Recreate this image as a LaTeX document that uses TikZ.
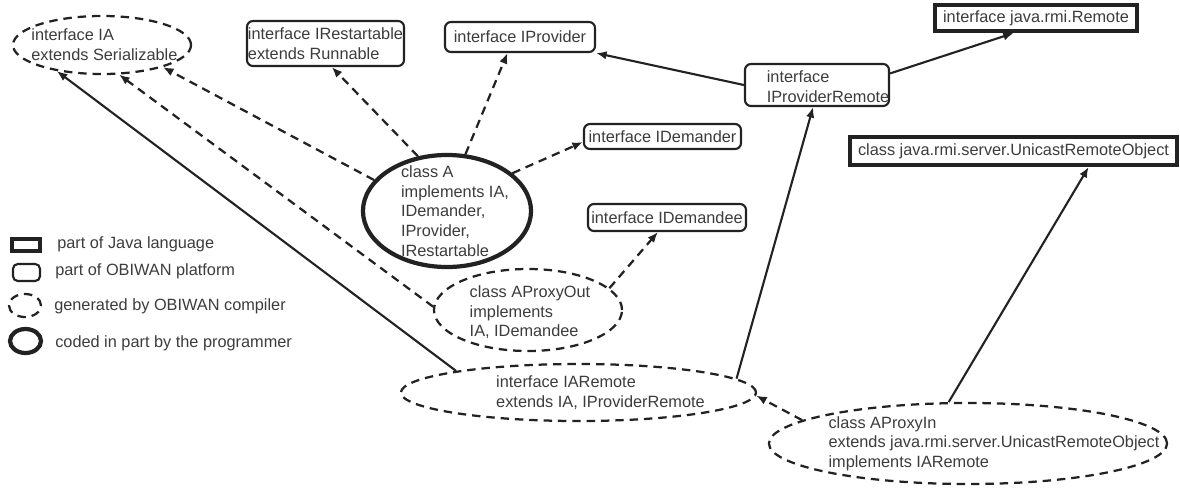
\documentclass[tikz,border=0pt]{standalone}
\usepackage{fontspec}
\setmainfont{Liberation Sans}
\usepackage{tikz}
\usetikzlibrary{arrows.meta,shapes.geometric}
\definecolor{ink}{HTML}{222222}
\definecolor{txt}{HTML}{3C3C3C}
\tikzset{
	every node/.style={font=\fontsize{11.6}{14}\selectfont, text=txt, align=left},
	javabox/.style={draw=ink, line width=2.8pt, rectangle, inner sep=0pt},
	obibox/.style={draw=ink, line width=1.5pt, rectangle, rounded corners=0.15cm, inner sep=0pt},
	genoval/.style={draw=ink, line width=1.6pt, ellipse, dash pattern=on 6pt off 4.2pt, inner sep=0pt},
	codeoval/.style={draw=ink, line width=3pt, ellipse, inner sep=0pt},
	dep/.style={draw=ink, line width=1.6pt, dash pattern=on 6pt off 4.2pt, -{Latex[length=7.5pt,width=6pt]}},
	ext/.style={draw=ink, line width=1.5pt, -{Latex[length=7.5pt,width=6pt]}},
	legtext/.style={anchor=west, inner sep=0pt}
}

\begin{document}
\begin{tikzpicture}[x=0.025cm, y=-0.025cm]
			%%%%% START %%%%%
			\useasboundingbox (0, 0) rectangle (1180, 488);
			
			% part of Java language
			\node[javabox, minimum width=5.05cm, minimum height=0.65cm] (Remote) at (1036, 18) {interface java.rmi.Remote};
			\node[javabox, minimum width=8.175cm, minimum height=0.7cm] (Unicast) at (1013.5, 151) {class java.rmi.server.UnicastRemoteObject};
			
			% part of OBIWAN platform
			\node[obibox, minimum width=3.925cm, minimum height=1.125cm] (IRestartable) at (325.5, 43.5) {interface IRestartable\\extends Runnable};
			\node[obibox, minimum width=3.75cm, minimum height=0.75cm] (IProvider) at (520, 37) {interface IProvider};
			\node[obibox, minimum width=3.925cm, minimum height=0.625cm] (IDemander) at (662.5, 136.5) {interface IDemander};
			\node[obibox, minimum width=3.95cm, minimum height=0.675cm] (IDemandee) at (667, 217.5) {interface IDemandee};
			\node[obibox, minimum width=3.6cm, minimum height=1.05cm,
				label={[xshift=0.275cm, yshift=-0.04cm]center:interface\\IProviderRemote}] (IProviderRemote) at (817, 85) {};
			
			% generated by OBIWAN compiler
			\node[genoval, minimum width=4.45cm, minimum height=1.45cm,
				label={[xshift=0.06cm]center:interface IA\\extends Serializable}] (IA) at (102, 45) {};
			\node[genoval, minimum width=4.7cm, minimum height=2.05cm,
				label={[xshift=0.05cm, yshift=-0.06cm]center:class AProxyOut\\implements\\IA, IDemandee}] (AProxyOut) at (528, 310) {};
			\node[genoval, minimum width=8.875cm, minimum height=1.425cm,
				label={[xshift=0.55cm]center:interface IARemote\\extends IA, IProviderRemote}] (IARemote) at (578.5, 392.5) {};
			\node[genoval, minimum width=9.95cm, minimum height=2.025cm,
				label={[xshift=0.65cm]center:class AProxyIn\\extends java.rmi.server.UnicastRemoteObject\\implements IARemote}] (AProxyIn) at (968, 443.5) {};
			
			% coded in part by the programmer
			\node[codeoval, minimum width=4.2cm, minimum height=2.8cm,
				label={[xshift=0.2cm]center:class A\\implements IA,\\IDemander,\\IProvider,\\IRestartable}] (A) at (447, 211) {};
			
			% legend
			\node[javabox, minimum width=0.7cm, minimum height=0.3cm] (jicon) at (26, 245) {};
			\node[obibox, rounded corners=0.12cm, minimum width=0.675cm, minimum height=0.425cm] (oicon) at (26.5, 272.5) {};
			\node[genoval, minimum width=0.8cm, minimum height=0.575cm] (gicon) at (25, 305.5) {};
			\node[codeoval, minimum width=0.775cm, minimum height=0.6cm] (cicon) at (25.5, 341) {};
			\node[legtext] (jtext) at (57, 244) {part of Java language};
			\node[legtext] (otext) at (55, 271) {part of OBIWAN platform};
			\node[legtext] (gtext) at (54, 306) {generated by OBIWAN compiler};
			\node[legtext] (ctext) at (55, 343) {coded in part by the programmer};
			
			% realisation (dashed)
			\draw[dep] (A.157) -- (IA.-20);
			\draw[dep] (AProxyOut.178) -- (IA.-60);
			\draw[dep] (A.118) -- (IRestartable.-75);
			\draw[dep] (A.72) -- (IProvider.-128);
			\draw[dep] (A.30) -- (IDemander.184);
			\draw[dep] (AProxyOut.15) -- (IDemandee.-122);
			\draw[dep] (AProxyIn.172) -- (IARemote.-1.5);
			
			% inheritance (solid)
			\draw[ext] (IARemote.170) -- (IA.-150);
			\draw[ext] (IProviderRemote.west) -- (IProvider.south east);
			\draw[ext] (IProviderRemote.9) -- (Remote.-146);
			\draw[ext] (IARemote.5) -- (IProviderRemote.-100);
			\draw[ext] (AProxyIn.115) -- (Unicast.-12);
			
			%%%%% END %%%%%
\end{tikzpicture}
\end{document}
